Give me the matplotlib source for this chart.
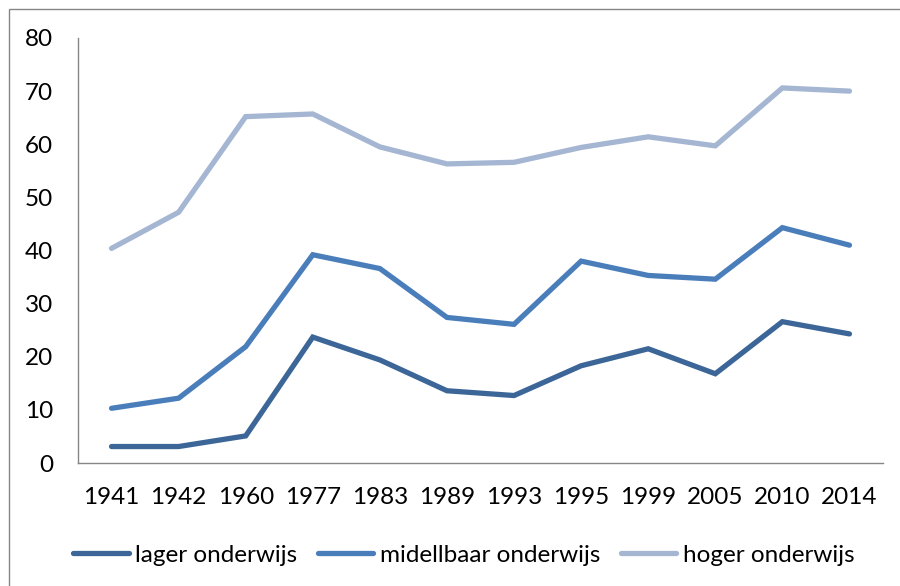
import matplotlib
matplotlib.use("Agg")
import matplotlib.pyplot as plt
from matplotlib.patches import Rectangle

years = ["1941", "1942", "1960", "1977", "1983", "1989", "1993", "1995", "1999", "2005", "2010", "2014"]
lager = [3.1, 3.1, 5.1, 23.7, 19.4, 13.6, 12.7, 18.3, 21.5, 16.8, 26.6, 24.3]
middelbaar = [10.3, 12.2, 21.9, 39.2, 36.6, 27.4, 26.1, 38.0, 35.3, 34.6, 44.3, 41.0]
hoger = [40.4, 47.2, 65.2, 65.7, 59.5, 56.3, 56.6, 59.4, 61.4, 59.7, 70.6, 70.0]
labels = ["lager onderwijs", "midellbaar onderwijs", "hoger onderwijs"]
colors = ["#3C6697", "#4A7EBB", "#A5B6D3"]

plt.rcParams['font.family'] = ['Lato', 'DejaVu Sans']

fig = plt.figure(figsize=(9, 5.86), dpi=100)
ax = fig.add_axes([78/900, 1-463/586, (883-78)/900, (463-38)/586])

x = list(range(len(years)))
for series, lab, col in zip([lager, middelbaar, hoger], labels, colors):
    ax.plot(x, series, color=col, lw=3.8, label=lab, solid_capstyle='round', solid_joinstyle='miter')

ax.set_xlim(-0.5, len(years) - 0.5)
ax.set_ylim(0, 80)
ax.set_yticks(range(0, 81, 10))
ax.set_xticks(x)
ax.set_xticklabels(years)
for s in ['top', 'right']:
    ax.spines[s].set_visible(False)
for s in ['left', 'bottom']:
    ax.spines[s].set_color('#868686')
    ax.spines[s].set_linewidth(1.0)
ax.tick_params(axis='both', length=0, labelsize=17.5, colors='black')
ax.tick_params(axis='y', pad=18)
ax.tick_params(axis='x', pad=17)

fig.legend(loc='center', bbox_to_anchor=(0.515, 1-555/586), ncol=3, frameon=False,
           fontsize=17.5, handlelength=2.3, handletextpad=0.25, columnspacing=0.85)

fig.patches.append(Rectangle((9/900, -0.1), 1.2, 1.1 - 9/586, transform=fig.transFigure,
                             fill=False, edgecolor='#868686', lw=1.0))

fig.savefig("out.png", dpi=100)
